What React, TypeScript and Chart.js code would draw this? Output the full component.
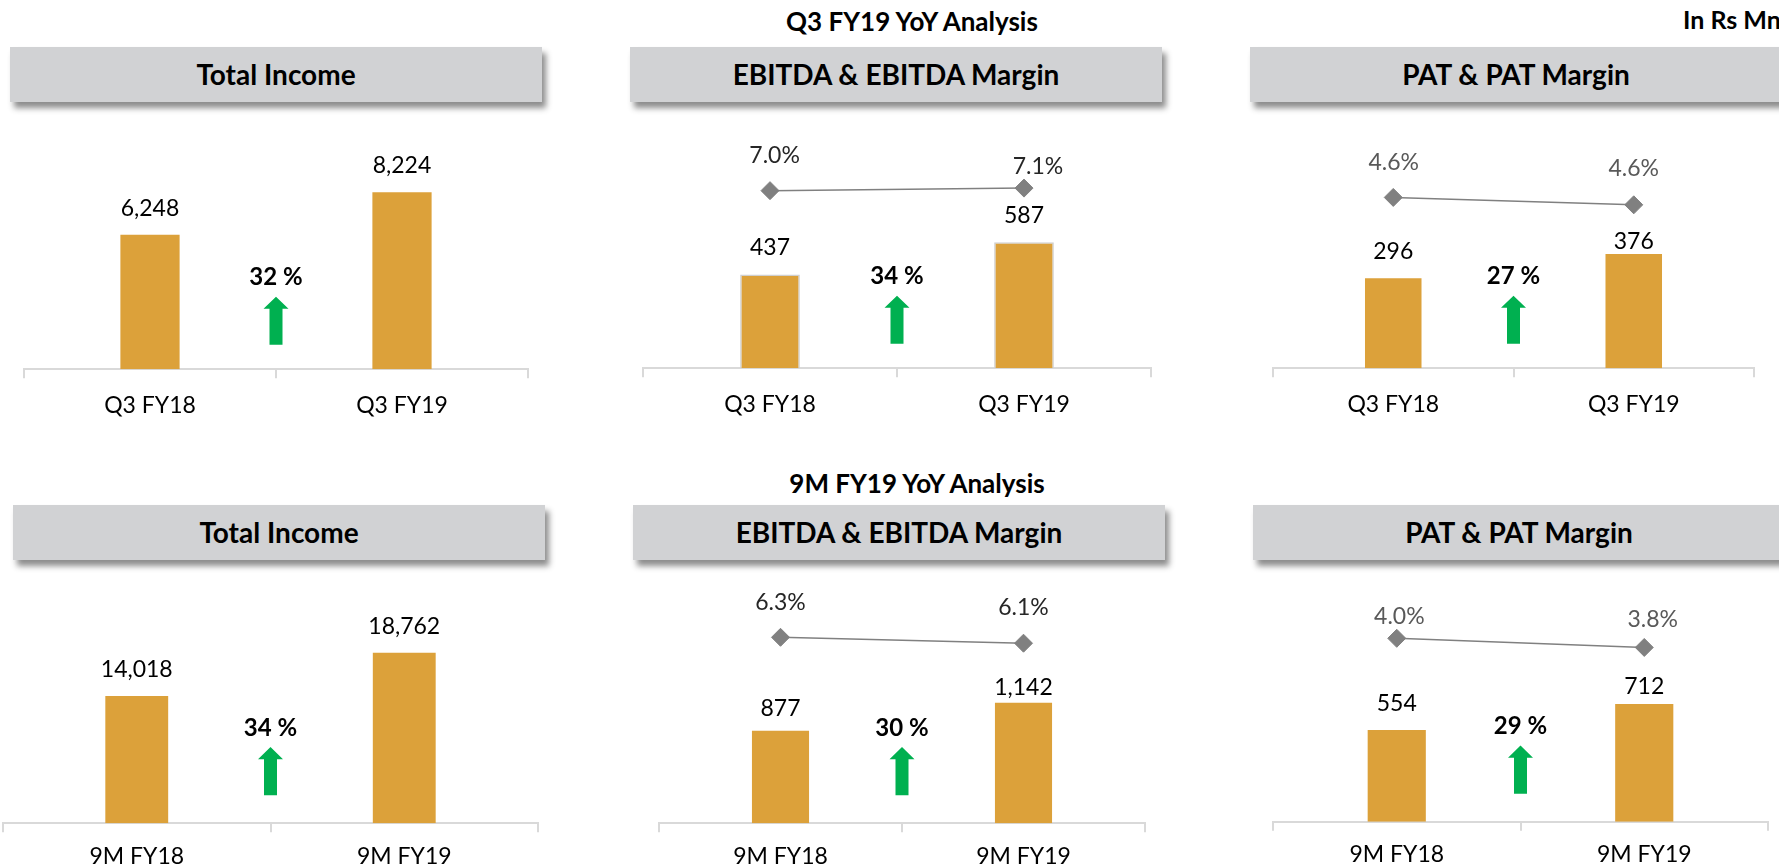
import React, { useEffect, useRef } from 'react';
import { Chart, registerables } from 'chart.js';

Chart.register(...registerables);

// ---------- DATA ----------
const Q3_CATEGORIES = ['Q3 FY18', 'Q3 FY19'];
const NINE_M_CATEGORIES = ['9M FY18', '9M FY19'];

const Q3_TOTAL_INCOME = [6248, 8224];
const Q3_EBITDA = [437, 587];
const Q3_EBITDA_MARGIN = [7.0, 7.1];
const Q3_PAT = [296, 376];
const Q3_PAT_MARGIN = [4.64, 4.56];

const NINE_M_TOTAL_INCOME = [14018, 18762];
const NINE_M_EBITDA = [877, 1142];
const NINE_M_EBITDA_MARGIN = [6.3, 6.1];
const NINE_M_PAT = [554, 712];
const NINE_M_PAT_MARGIN = [4.0, 3.8];

const Q3_GROWTH = [32, 34, 27];
const NINE_M_GROWTH = [34, 30, 29];

const PANEL_TITLES = ['Total Income', 'EBITDA & EBITDA Margin', 'PAT & PAT Margin'];
const ROW_TITLES = ['Q3 FY19 YoY Analysis', '9M FY19 YoY Analysis'];
const UNIT_NOTE = 'In Rs Mn';

// ---------- STYLE ----------
const FONT = 'Lato, "Open Sans", "DejaVu Sans", sans-serif';
const BAR_COLOR = '#DCA13A';
const LINE_COLOR = '#808080';
const ARROW_COLOR = '#00B050';
const HEADER_BG = '#D1D2D4';
const AXIS_COLOR = '#D9D9D9';

type Geo = {
  left: number; right: number; bottom: number; top: number;
  canvasTop: number; canvasBottom: number; tickPadding: number;
  yMax: number; y1Min?: number; y1Max?: number;
  barLabelGap: number[]; lineLabelOffset?: number[][];
  marginColor?: string; barBorder?: boolean;
  growthDy: number[]; // text center, arrow top, head bottom, arrow bottom (relative to axis)
  headerLeft: number; headerTop: number;
};

type Spec = Geo & {
  title: string; categories: string[]; bars: number[]; margins?: number[]; growth: number;
};

const ROW1_GROWTH_DY = [-93, -72.5, -60.5, -24.5];
const ROW2_GROWTH_DY = [-96.3, -76.3, -64, -28];

const PANELS: Spec[] = [
  {
    title: PANEL_TITLES[0], categories: Q3_CATEGORIES, bars: Q3_TOTAL_INCOME, growth: Q3_GROWTH[0],
    left: 23.7, right: 527.9, bottom: 369.3, top: 130, canvasTop: 110, canvasBottom: 440, tickPadding: 13,
    yMax: 11110, barLabelGap: [27, 27], growthDy: ROW1_GROWTH_DY, headerLeft: 10, headerTop: 47,
  },
  {
    title: PANEL_TITLES[1], categories: Q3_CATEGORIES, bars: Q3_EBITDA, margins: Q3_EBITDA_MARGIN, growth: Q3_GROWTH[1],
    left: 634.8, right: 1158.3, bottom: 368.3, top: 130, canvasTop: 110, canvasBottom: 440, tickPadding: 13,
    yMax: 1109, y1Min: 0, y1Max: 9.39, barLabelGap: [27.6, 27.3], lineLabelOffset: [[4.6, -36], [14, -22.5]],
    marginColor: '#262626', barBorder: true, growthDy: ROW1_GROWTH_DY, headerLeft: 630, headerTop: 47,
  },
  {
    title: PANEL_TITLES[2], categories: Q3_CATEGORIES, bars: Q3_PAT, margins: Q3_PAT_MARGIN, growth: Q3_GROWTH[2],
    left: 1264.6, right: 1761.3, bottom: 368.3, top: 130, canvasTop: 110, canvasBottom: 440, tickPadding: 13,
    yMax: 784, y1Min: 2.79, y1Max: 5.37, barLabelGap: [27.5, 13], lineLabelOffset: [[0.4, -35.6], [0, -37]],
    marginColor: '#595959', growthDy: ROW1_GROWTH_DY, headerLeft: 1250, headerTop: 47,
  },
  {
    title: PANEL_TITLES[0], categories: NINE_M_CATEGORIES, bars: NINE_M_TOTAL_INCOME, growth: NINE_M_GROWTH[0],
    left: 3.2, right: 538.5, bottom: 823.3, top: 588, canvasTop: 565, canvasBottom: 900, tickPadding: 10,
    yMax: 25890, barLabelGap: [27, 27.4], growthDy: ROW2_GROWTH_DY, headerLeft: 13, headerTop: 505,
  },
  {
    title: PANEL_TITLES[1], categories: NINE_M_CATEGORIES, bars: NINE_M_EBITDA, margins: NINE_M_EBITDA_MARGIN, growth: NINE_M_GROWTH[1],
    left: 650.6, right: 1152.8, bottom: 823.3, top: 588, canvasTop: 565, canvasBottom: 900, tickPadding: 10,
    yMax: 2228, y1Min: 0, y1Max: 7.97, barLabelGap: [23, 16], lineLabelOffset: [[0, -35.6], [0, -36.6]],
    marginColor: '#262626', growthDy: ROW2_GROWTH_DY, headerLeft: 633, headerTop: 505,
  },
  {
    title: PANEL_TITLES[2], categories: NINE_M_CATEGORIES, bars: NINE_M_PAT, margins: NINE_M_PAT_MARGIN, growth: NINE_M_GROWTH[2],
    left: 1264.6, right: 1776, bottom: 821.7, top: 588, canvasTop: 565, canvasBottom: 900, tickPadding: 10,
    yMax: 1413, y1Min: 0, y1Max: 5.097, barLabelGap: [27.5, 18], lineLabelOffset: [[2.6, -23], [8.4, -28.6]],
    marginColor: '#595959', growthDy: ROW2_GROWTH_DY, headerLeft: 1253, headerTop: 505,
  },
];

const TICK_LENGTH = 9;
const TICK_FONT_SIZE = 23;
const LABEL_FONT_SIZE = 23;
const CAP = 0.358; // half cap-height ratio for Lato

function makeLabelPlugin(spec: Spec) {
  return {
    id: 'panelLabels',
    afterDatasetsDraw(chart: any) {
      const ctx: CanvasRenderingContext2D = chart.ctx;
      ctx.save();
      ctx.textAlign = 'center';
      ctx.textBaseline = 'alphabetic';
      // bar value labels
      const barMeta = chart.getDatasetMeta(0);
      ctx.font = `400 ${LABEL_FONT_SIZE}px ${FONT}`;
      ctx.fillStyle = '#000000';
      barMeta.data.forEach((el: any, i: number) => {
        const v = spec.bars[i];
        const y = el.y - spec.barLabelGap[i] + CAP * LABEL_FONT_SIZE;
        ctx.fillText(v.toLocaleString('en-US'), el.x, y);
      });
      // margin labels
      if (spec.margins) {
        const lineMeta = chart.getDatasetMeta(1);
        ctx.fillStyle = spec.marginColor || '#262626';
        lineMeta.data.forEach((el: any, i: number) => {
          const off = (spec.lineLabelOffset && spec.lineLabelOffset[i]) || [0, -36];
          const y = el.y + off[1] + CAP * LABEL_FONT_SIZE;
          ctx.fillText(spec.margins![i].toFixed(1) + '%', el.x + off[0], y);
        });
      }
      // growth text + arrow
      const xs = chart.scales.x;
      const cx = (xs.getPixelForValue(0) + xs.getPixelForValue(1)) / 2;
      const base = chart.chartArea.bottom;
      const [tDy, aTop, aHead, aBot] = spec.growthDy;
      ctx.font = `700 24px ${FONT}`;
      ctx.fillStyle = '#000000';
      ctx.fillText(`${spec.growth} %`, cx, base + tDy + CAP * 24);
      ctx.fillStyle = ARROW_COLOR;
      ctx.beginPath();
      ctx.moveTo(cx, base + aTop);
      ctx.lineTo(cx + 12.5, base + aHead);
      ctx.lineTo(cx + 6.5, base + aHead);
      ctx.lineTo(cx + 6.5, base + aBot);
      ctx.lineTo(cx - 6.5, base + aBot);
      ctx.lineTo(cx - 6.5, base + aHead);
      ctx.lineTo(cx - 12.5, base + aHead);
      ctx.closePath();
      ctx.fill();
      ctx.restore();
    },
  };
}

function ChartPanel({ spec }: { spec: Spec }) {
  const ref = useRef<HTMLCanvasElement>(null);
  const width = Math.round(spec.right - spec.left + 4);
  const height = spec.canvasBottom - spec.canvasTop;
  useEffect(() => {
    const canvas = ref.current!;
    const axisHeight = TICK_LENGTH + TICK_FONT_SIZE * 1.2 + spec.tickPadding * 2;
    const padTop = spec.top - spec.canvasTop;
    const padBottom = spec.canvasBottom - spec.bottom - axisHeight;
    const datasets: any[] = [
      {
        type: 'bar',
        data: spec.bars,
        backgroundColor: BAR_COLOR,
        borderColor: spec.barBorder ? '#CFCFCF' : BAR_COLOR,
        borderWidth: spec.barBorder ? 1.5 : 0,
        barPercentage: 0.235,
        categoryPercentage: 1,
        yAxisID: 'y',
        order: 2,
      },
    ];
    if (spec.margins) {
      datasets.push({
        type: 'line',
        data: spec.margins,
        yAxisID: 'y1',
        borderColor: LINE_COLOR,
        borderWidth: 1.5,
        pointStyle: 'rectRot',
        pointRadius: 9,
        pointBackgroundColor: LINE_COLOR,
        pointBorderColor: LINE_COLOR,
        pointBorderWidth: 1,
        tension: 0,
        order: 1,
        clip: false,
      });
    }
    const chart = new Chart(canvas, {
      type: 'bar',
      data: { labels: spec.categories, datasets },
      options: {
        animation: false,
        responsive: false,
        maintainAspectRatio: false,
        events: [],
        layout: { padding: { left: 2, right: 2, top: padTop, bottom: padBottom } },
        plugins: { legend: { display: false }, tooltip: { enabled: false } },
        scales: {
          x: {
            type: 'category',
            offset: true,
            grid: {
              display: true,
              drawOnChartArea: false,
              drawTicks: true,
              tickLength: TICK_LENGTH,
              color: AXIS_COLOR,
              lineWidth: 2,
              offset: true,
            },
            border: { display: true, color: AXIS_COLOR, width: 2 },
            ticks: {
              padding: spec.tickPadding,
              color: '#000000',
              font: { family: FONT, size: TICK_FONT_SIZE, weight: 'normal' },
              maxRotation: 0,
              autoSkip: false,
            },
          },
          y: { display: false, min: 0, max: spec.yMax },
          y1: { display: false, position: 'right', min: spec.y1Min ?? 0, max: spec.y1Max ?? 10 },
        },
      } as any,
      plugins: [makeLabelPlugin(spec)],
    });
    return () => chart.destroy();
  }, [spec]);
  return (
    <canvas
      ref={ref}
      width={width}
      height={height}
      style={{ position: 'absolute', left: spec.left - 2, top: spec.canvasTop, width, height }}
    />
  );
}

function Header({ spec }: { spec: Spec }) {
  return (
    <div
      style={{
        position: 'absolute',
        left: spec.headerLeft,
        top: spec.headerTop,
        width: 532,
        height: 55,
        background: HEADER_BG,
        boxShadow: '4px 6px 6px rgba(0,0,0,0.45)',
        display: 'flex',
        alignItems: 'center',
        justifyContent: 'center',
        fontFamily: FONT,
        fontWeight: 700,
        fontSize: 28,
        lineHeight: 1.2,
        color: '#000',
        whiteSpace: 'nowrap',
      }}
    >
      {spec.title}
    </div>
  );
}

function TextAt({ text, cx, top, size, left }: { text: string; cx?: number; top: number; size: number; left?: number }) {
  const style: React.CSSProperties = {
    position: 'absolute',
    top,
    fontFamily: FONT,
    fontWeight: 700,
    fontSize: size,
    lineHeight: 1.2,
    color: '#000',
    whiteSpace: 'nowrap',
  };
  if (cx !== undefined) {
    style.left = cx - 300;
    style.width = 600;
    style.textAlign = 'center';
  } else {
    style.left = left;
  }
  return <div style={style}>{text}</div>;
}

export default function App() {
  return (
    <div
      style={{
        position: 'absolute',
        left: 0,
        top: 0,
        width: 1779,
        height: 868,
        overflow: 'hidden',
        background: '#ffffff',
      }}
    >
      <TextAt text={ROW_TITLES[0]} cx={912} top={6} size={26} />
      <TextAt text={ROW_TITLES[1]} cx={917} top={467.6} size={26} />
      <TextAt text={UNIT_NOTE} left={1683} top={3.6} size={25} />
      {PANELS.map((p, i) => (
        <Header key={'h' + i} spec={p} />
      ))}
      {PANELS.map((p, i) => (
        <ChartPanel key={'c' + i} spec={p} />
      ))}
    </div>
  );
}
